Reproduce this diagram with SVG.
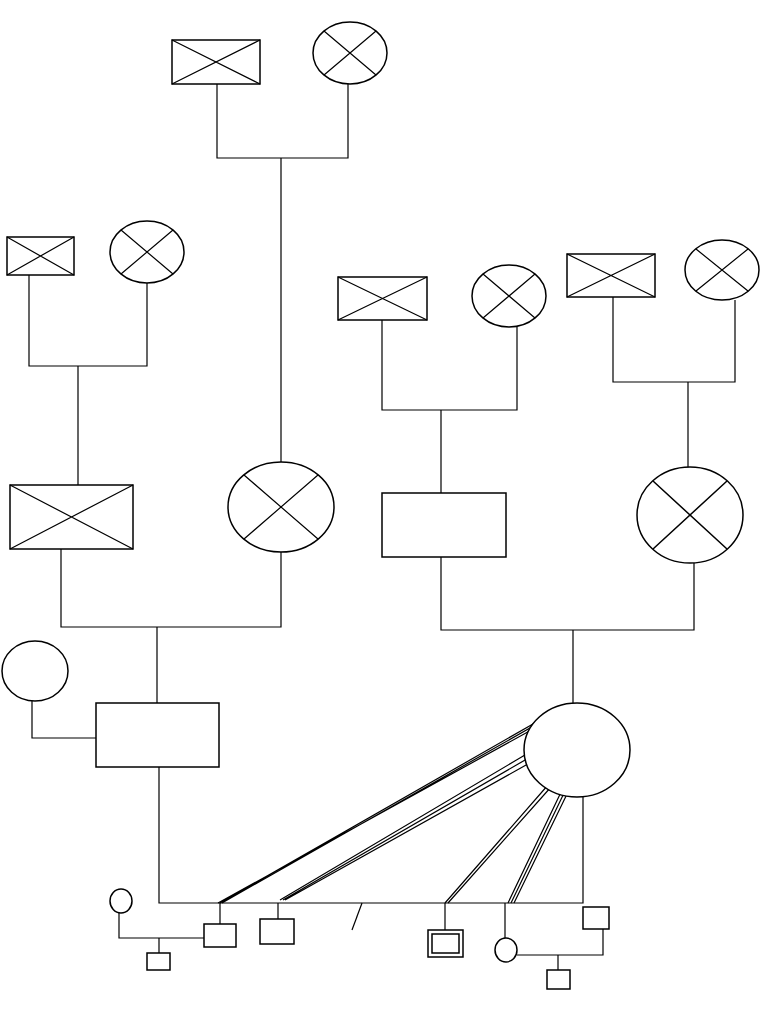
<svg xmlns="http://www.w3.org/2000/svg" width="768" height="1024" viewBox="0 0 768 1024">
<style>
.s{fill:#fff;stroke:#000;stroke-width:1.5}
.l{fill:none;stroke:#000;stroke-width:1.2}
</style>
<rect width="768" height="1024" fill="#fff"/>
<g id="connectors" class="l">
<path d="M217 84V158H348V84M281 158V463"/>
<path d="M29 275V366H147V283M78 366V485"/>
<path d="M61 549V627H281V552M157 627V703"/>
<path d="M382 320V410H517V327M441 410V493"/>
<path d="M613 297V382H735V300M688 382V467"/>
<path d="M441 557V630H694V563M573 630V703"/>
<path d="M32 701V738H96M159 767V903H583V797"/>
<path d="M540 720L220 903M537 724L222 903M535 728L218 903"/>
<path d="M530 752L280 900M532 756L283 900M535 760L285 900"/>
<path d="M548 785L445 903M551 787L448 903"/>
<path d="M563 788L508 903M566 789L511 903M569 790L514 903"/>
<path d="M362 903L352 930"/>
<path d="M220 903V924M278 903V919M445 903V930M505 903V938"/>
<path d="M119 913V938H204M159 938V953"/>
<path d="M517 955H603V929M558 955V970"/>
</g>
<g id="n1"><rect class="s" x="172" y="40" width="88" height="44"/><path class="l" d="M172 40L260 84M260 40L172 84"/></g>
<g id="n2"><ellipse class="s" cx="350" cy="53" rx="37" ry="31"/><path class="l" d="M324 31L376 75M376 31L324 75"/></g>
<g id="n3"><rect class="s" x="7" y="237" width="67" height="38"/><path class="l" d="M7 237L74 275M74 237L7 275"/></g>
<g id="n4"><ellipse class="s" cx="147" cy="252" rx="37" ry="31"/><path class="l" d="M121 230L173 274M173 230L121 274"/></g>
<g id="n5"><rect class="s" x="10" y="485" width="123" height="64"/><path class="l" d="M10 485L133 549M133 485L10 549"/></g>
<g id="n6"><ellipse class="s" cx="281" cy="507" rx="53" ry="45"/><path class="l" d="M244 475L318 539M318 475L244 539"/></g>
<g id="n7"><rect class="s" x="338" y="277" width="89" height="43"/><path class="l" d="M338 277L427 320M427 277L338 320"/></g>
<g id="n8"><ellipse class="s" cx="509" cy="296" rx="37" ry="31"/><path class="l" d="M483 274L535 318M535 274L483 318"/></g>
<g id="n9"><rect class="s" x="567" y="254" width="88" height="43"/><path class="l" d="M567 254L655 297M655 254L567 297"/></g>
<g id="n10"><ellipse class="s" cx="722" cy="270" rx="37" ry="30"/><path class="l" d="M696 249L748 291M748 249L696 291"/></g>
<g id="n11"><rect class="s" x="382" y="493" width="124" height="64"/></g>
<g id="n12"><ellipse class="s" cx="690" cy="515" rx="53" ry="48"/><path class="s" d="M653 481L727 549M727 481L653 549"/></g>
<g id="n13"><ellipse class="s" cx="35" cy="671" rx="33" ry="30"/></g>
<g id="n14"><rect class="s" x="96" y="703" width="123" height="64"/></g>
<g id="n15"><ellipse class="s" cx="577" cy="750" rx="53" ry="47"/></g>
<g id="c1"><ellipse class="s" cx="121" cy="901" rx="11" ry="12"/></g>
<g id="c2"><rect class="s" x="147" y="953" width="23" height="17"/></g>
<g id="c3"><rect class="s" x="204" y="924" width="32" height="23"/></g>
<g id="c4"><rect class="s" x="260" y="919" width="34" height="25"/></g>
<g id="c5"><rect class="s" x="428" y="930" width="35" height="27"/><rect class="s" x="432" y="934" width="27" height="19"/></g>
<g id="c6"><ellipse class="s" cx="506" cy="950" rx="11" ry="12"/></g>
<g id="c7"><rect class="s" x="583" y="907" width="26" height="22"/></g>
<g id="c8"><rect class="s" x="547" y="970" width="23" height="19"/></g>
</svg>
